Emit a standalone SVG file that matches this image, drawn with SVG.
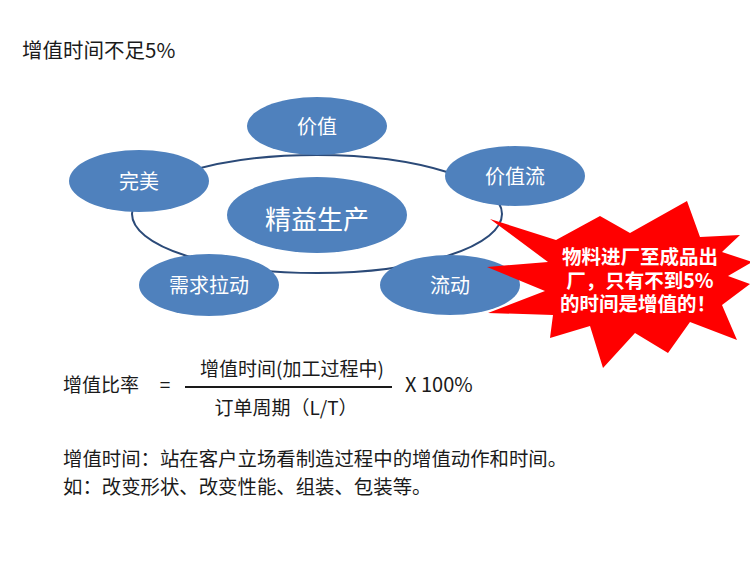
<svg xmlns="http://www.w3.org/2000/svg" width="750" height="562" viewBox="0 0 750 562">
<style>
.t{font-family:"Noto Sans CJK SC","Liberation Sans",sans-serif;fill:#1a1a1a}
.n{fill:#4F81BD}
.nt{font-family:"Noto Sans CJK SC","Liberation Sans",sans-serif;fill:#ffffff;font-size:20px;text-anchor:middle}
.st{font-family:"Noto Sans CJK SC","Liberation Sans",sans-serif;fill:#ffffff;font-size:19.5px;font-weight:bold;text-anchor:middle}
</style>
<rect width="750" height="562" fill="#ffffff"/>
<text class="t" x="22" y="58" font-size="20.5">增值时间不足5%</text>
<g id="connectors">
<ellipse cx="317" cy="214" rx="185" ry="59" fill="none" stroke="#2B4A78" stroke-width="2"/>
</g>
<g id="node-jiazhi"><ellipse class="n" cx="317" cy="126" rx="70" ry="29"/><text class="nt" x="317" y="134">价值</text></g>
<g id="node-wanmei"><ellipse class="n" cx="139" cy="181" rx="70" ry="31"/><text class="nt" x="139" y="189">完美</text></g>
<g id="node-jiazhiliu"><ellipse class="n" cx="515" cy="176" rx="70" ry="30"/><text class="nt" x="515" y="184">价值流</text></g>
<g id="node-center"><ellipse class="n" cx="317" cy="215" rx="90" ry="38"/><text class="nt" x="317" y="229" style="font-size:26px">精益生产</text></g>
<g id="node-xuqiu"><ellipse class="n" cx="209" cy="285" rx="70" ry="31"/><text class="nt" x="209" y="293">需求拉动</text></g>
<g id="node-liudong"><ellipse class="n" cx="450" cy="285" rx="70" ry="30"/><text class="nt" x="450" y="293">流动</text></g>
<g id="callout">
<polygon fill="#FF0000" points="490,219 556,240 600,216 630,233 687,201 700,237 740,235 722,252 752,262 728,276 750,284 722,305 737,340 690,322 668,353 635,333 603,368 590,326 550,338 553,315 488,313 545,291 487,267 548,262"/>
<text class="st" x="640" y="264">物料进厂至成品出</text>
<text class="st" x="640" y="288">厂，只有不到5%</text>
<text class="st" x="638" y="311">的时间是增值的！</text>
</g>
<g id="formula">
<text class="t" x="63" y="392" font-size="19">增值比率</text>
<text class="t" x="165" y="392" font-size="19" text-anchor="middle">=</text>
<line x1="185" y1="387" x2="392" y2="387" stroke="#1a1a1a" stroke-width="2"/>
<text class="t" x="292" y="376" font-size="19" text-anchor="middle">增值时间(加工过程中)</text>
<text class="t" x="286" y="415" font-size="19" text-anchor="middle">订单周期（L/T）</text>
<text class="t" x="405" y="392" font-size="20">X 100%</text>
</g>
<text class="t" x="63" y="466" font-size="19.4">增值时间：站在客户立场看制造过程中的增值动作和时间。</text>
<text class="t" x="63" y="494" font-size="19.4">如：改变形状、改变性能、组装、包装等。</text>
</svg>
